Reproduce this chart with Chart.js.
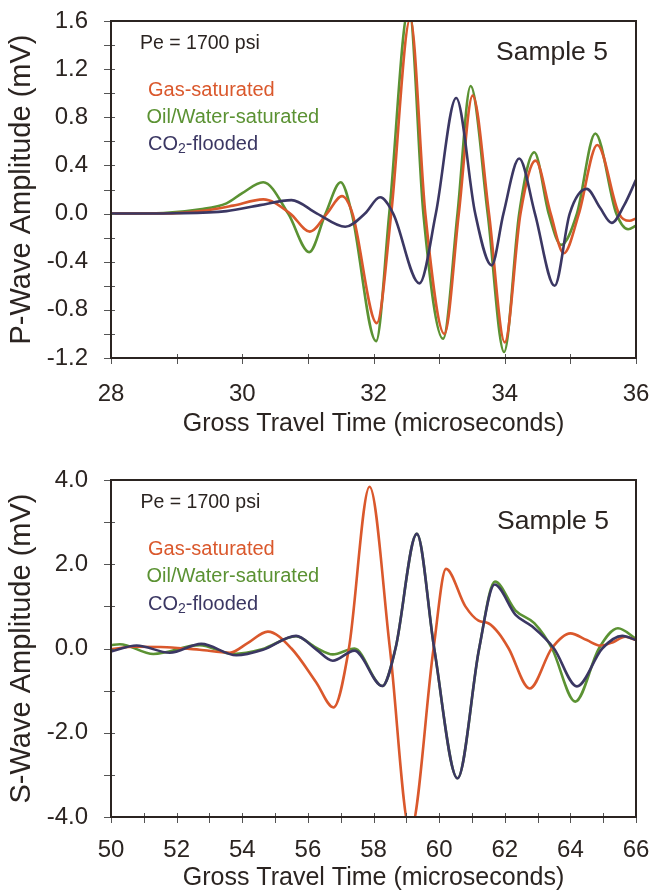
<!DOCTYPE html>
<html>
<head>
<meta charset="utf-8">
<script src="https://cdn.jsdelivr.net/npm/chart.js@4.4.0/dist/chart.umd.min.js"></script>
<style>
  html, body { margin: 0; padding: 0; background: #fff; }
  canvas { display: block; }
</style>
</head>
<body>
<canvas id="pwave" width="660" height="440"></canvas>
<canvas id="swave" width="660" height="453"></canvas>
<script>
// ---- P-wave panel (time in microseconds, amplitude in mV) ----
const pGasTime = [28.0, 28.8, 29.36, 29.86, 30.32, 30.73, 31.03, 31.29, 31.52, 31.68, 32.05, 32.27, 32.56, 32.79, 33.08, 33.3, 33.51, 33.76, 34.0, 34.24, 34.47, 34.7, 34.9, 35.13, 35.41, 35.74, 35.9, 36.0];
const pGasAmp  = [0, 0, 0.02, 0.066, 0.118, 0, -0.15, 0, 0.145, 0, -0.91, 0, 1.62, 0, -1.0, 0, 0.98, 0, -1.07, 0, 0.44, 0, -0.33, 0, 0.57, 0, -0.06, -0.04];

const pOilTime = [28.0, 28.8, 29.36, 29.76, 30.0, 30.32, 30.7, 31.02, 31.27, 31.5, 31.67, 32.04, 32.24, 32.54, 32.76, 33.06, 33.28, 33.48, 33.74, 33.99, 34.22, 34.45, 34.67, 34.86, 35.1, 35.38, 35.7, 35.88, 36.0];
const pOilAmp  = [0, 0.005, 0.035, 0.085, 0.17, 0.26, 0, -0.32, 0, 0.26, 0, -1.06, 0, 1.72, 0, -1.04, 0, 1.06, 0, -1.15, 0, 0.51, 0, -0.26, 0, 0.665, 0, -0.13, -0.1];

const pCo2Time = [28.0, 29.0, 29.76, 30.27, 30.75, 31.14, 31.57, 31.87, 32.1, 32.3, 32.7, 32.95, 33.26, 33.55, 33.8, 33.98, 34.22, 34.46, 34.76, 34.99, 35.25, 35.45, 35.63, 35.82, 36.0];
const pCo2Amp  = [0, 0.003, 0.02, 0.07, 0.112, 0, -0.11, 0, 0.135, 0, -0.58, 0, 0.96, 0, -0.43, 0, 0.457, 0, -0.6, 0, 0.205, 0.05, -0.077, 0.07, 0.28];

const pXLabels = [28, 30, 32, 34, 36];
const pYLabels = [-1.2, -0.8, -0.4, 0.0, 0.4, 0.8, 1.2, 1.6];

// ---- S-wave panel ----
const sGasTime = [50.0, 50.7, 51.7, 52.7, 53.62, 54.15, 54.78, 55.5, 56.25, 56.78, 57.25, 57.88, 58.5, 59.12, 59.83, 60.21, 60.8, 61.2, 61.5, 61.82, 62.12, 62.76, 63.43, 64.0, 64.5, 64.91, 65.3, 65.67, 66.0];
const sGasAmp  = [-0.02, 0.04, 0.03, -0.03, -0.1, 0.12, 0.40, 0, -0.8, -1.40, 0, 3.84, 0, -4.35, 0, 1.89, 1.0, 0.66, 0.6, 0.36, 0, -0.95, 0, 0.36, 0.2, 0.07, 0.15, 0.28, 0.2];

const sOilTime = [50.0, 50.27, 51.29, 52.7, 53.72, 54.6, 55.64, 56.25, 56.76, 57.42, 58.27, 58.67, 59.32, 59.85, 60.56, 61.22, 61.7, 62.33, 62.9, 63.44, 64.15, 64.87, 65.45, 66.0];
const sOilAmp  = [0.08, 0.1, -0.13, 0.08, -0.13, -0.02, 0.29, 0.02, -0.14, 0.0, -0.89, 0, 2.72, 0, -3.08, 0, 1.59, 0.9, 0.6, 0, -1.26, 0, 0.48, 0.23];

const sCo2Time = [50.0, 50.78, 51.79, 52.75, 53.82, 54.63, 55.64, 56.25, 56.76, 57.42, 58.27, 58.67, 59.32, 59.85, 60.56, 61.22, 61.69, 62.33, 62.84, 63.5, 64.2, 64.97, 65.58, 66.0];
const sCo2Amp  = [-0.07, 0.07, -0.1, 0.11, -0.16, -0.03, 0.30, -0.02, -0.29, -0.05, -0.89, 0, 2.72, 0, -3.08, 0, 1.52, 0.8, 0.52, 0, -0.9, 0, 0.3, 0.2];

const sXLabels = [50, 52, 54, 56, 58, 60, 62, 64, 66];
const sYLabels = [-4.0, -2.0, 0.0, 2.0, 4.0];

const seriesNames = ['Gas-saturated', 'Oil/Water-saturated', 'CO2-flooded'];
const seriesColors = ['#da582c', '#5b9233', '#3b3763'];

const FONT = "'Liberation Sans', Arial, Helvetica, sans-serif";
const INK = '#2b2421';
Chart.defaults.font.family = FONT;
Chart.defaults.color = INK;

function toPoints(times, amps) {
  return times.map((t, i) => ({ x: t, y: amps[i] }));
}

function hasLabel(list, value) {
  return list.some(v => Math.abs(v - value) < 1e-6);
}

// tick marks crossing the axes, plus the closed frame
const tickMarks = {
  id: 'tickMarks',
  afterDatasetsDraw(chart) {
    const { ctx, chartArea: a, scales: { x, y } } = chart;
    ctx.save();
    ctx.strokeStyle = '#555';
    ctx.lineWidth = 1;
    ctx.beginPath();
    x.ticks.forEach(t => {
      const px = Math.round(x.getPixelForValue(t.value)) + 0.5;
      ctx.moveTo(px, a.bottom - 4);
      ctx.lineTo(px, a.bottom + 6);
    });
    y.ticks.forEach(t => {
      const py = Math.round(y.getPixelForValue(t.value)) + 0.5;
      ctx.moveTo(a.left - 7, py);
      ctx.lineTo(a.left + 4, py);
    });
    ctx.stroke();
    ctx.lineWidth = 2;
    ctx.strokeStyle = INK;
    ctx.strokeRect(a.left, a.top, a.right - a.left, a.bottom - a.top);
    ctx.restore();
  }
};

// text notes inside the plot area, offsets from the chart area corner
function panelText(items) {
  return {
    id: 'panelText',
    afterDraw(chart) {
      const { ctx, chartArea: a } = chart;
      ctx.save();
      ctx.textAlign = 'left';
      ctx.textBaseline = 'alphabetic';
      items.forEach(item => {
        let x = a.left + item.x;
        const y = a.top + item.y;
        ctx.fillStyle = item.color;
        item.parts.forEach(p => {
          ctx.font = p.size + 'px ' + FONT;
          ctx.fillText(p.text, x, y + (p.shift || 0));
          x += ctx.measureText(p.text).width;
        });
      });
      ctx.restore();
    }
  };
}

function notes(pe, rows, sample) {
  return [
    { x: pe[0], y: pe[1], color: INK, parts: [{ text: 'Pe = 1700 psi', size: 19.5 }] },
    { x: rows[0][0], y: rows[0][1], color: seriesColors[0], parts: [{ text: seriesNames[0], size: 20 }] },
    { x: rows[1][0], y: rows[1][1], color: seriesColors[1], parts: [{ text: seriesNames[1], size: 20 }] },
    { x: rows[2][0], y: rows[2][1], color: seriesColors[2], parts: [
      { text: 'CO', size: 20 }, { text: '2', size: 14, shift: 3 }, { text: '-flooded', size: 20 }] },
    { x: sample[0], y: sample[1], color: INK, parts: [{ text: 'Sample 5', size: 26.5 }] }
  ];
}

function makePanel(id, cfg) {
  const ds = [
    { label: seriesNames[0], data: toPoints(cfg.gas[0], cfg.gas[1]), borderColor: seriesColors[0], order: 1 },
    { label: seriesNames[1], data: toPoints(cfg.oil[0], cfg.oil[1]), borderColor: seriesColors[1], order: 2 },
    { label: seriesNames[2], data: toPoints(cfg.co2[0], cfg.co2[1]), borderColor: seriesColors[2], order: 0 }
  ].map(d => Object.assign(d, {
    borderWidth: 2.6, pointRadius: 0, fill: false, cubicInterpolationMode: 'monotone'
  }));

  return new Chart(document.getElementById(id), {
    type: 'line',
    data: { datasets: ds },
    plugins: [tickMarks, panelText(cfg.notes)],
    options: {
      responsive: false,
      animation: false,
      devicePixelRatio: 1,
      layout: { padding: { left: 0, right: 24, top: cfg.top, bottom: 0 } },
      plugins: {
        legend: { display: false },
        tooltip: { enabled: false }
      },
      scales: {
        x: {
          type: 'linear',
          min: cfg.xMin, max: cfg.xMax,
          afterFit: s => { s.height = cfg.xHeight; s.paddingLeft = 0; s.paddingRight = 0; },
          grid: { display: false, drawTicks: false },
          border: { display: false },
          ticks: {
            stepSize: 1, autoSkip: false, maxRotation: 0, padding: cfg.xPad,
            font: { size: 24 }, color: INK,
            callback: v => hasLabel(cfg.xLabels, v) ? String(v) : ''
          },
          title: {
            display: true, text: 'Gross Travel Time (microseconds)',
            font: { size: 25 }, color: INK, padding: { top: 0, bottom: cfg.xTitlePad }
          }
        },
        y: {
          min: cfg.yMin, max: cfg.yMax,
          afterFit: s => { s.width = 111; s.paddingTop = 0; s.paddingBottom = 0; },
          grid: { display: false, drawTicks: false },
          border: { display: false },
          ticks: {
            stepSize: cfg.yStep, autoSkip: false, padding: 23,
            font: { size: 24 }, color: INK,
            callback: v => hasLabel(cfg.yLabels, v) ? v.toFixed(1) : ''
          },
          title: {
            display: true, text: cfg.yTitle,
            font: { size: 29 }, color: INK, padding: { top: 5, bottom: 0 }
          }
        }
      }
    }
  });
}

makePanel('pwave', {
  gas: [pGasTime, pGasAmp], oil: [pOilTime, pOilAmp], co2: [pCo2Time, pCo2Amp],
  xMin: 28, xMax: 36, yMin: -1.2, yMax: 1.6, yStep: 0.2,
  xLabels: pXLabels, yLabels: pYLabels,
  yTitle: 'P-Wave Amplitude (mV)',
  top: 21, xHeight: 82, xPad: 22, xTitlePad: 1,
  notes: notes([29, 27.5], [[37, 75], [35.5, 101.5], [37, 128.5]], [385, 38.5])
});

makePanel('swave', {
  gas: [sGasTime, sGasAmp], oil: [sOilTime, sOilAmp], co2: [sCo2Time, sCo2Amp],
  xMin: 50, xMax: 66, yMin: -4, yMax: 4, yStep: 1,
  xLabels: sXLabels, yLabels: sYLabels,
  yTitle: 'S-Wave Amplitude (mV)',
  top: 40, xHeight: 76, xPad: 19, xTitlePad: 0,
  notes: notes([29.5, 28], [[37, 75], [35.5, 101.5], [37, 130]], [386, 48.5])
});
</script>
</body>
</html>
